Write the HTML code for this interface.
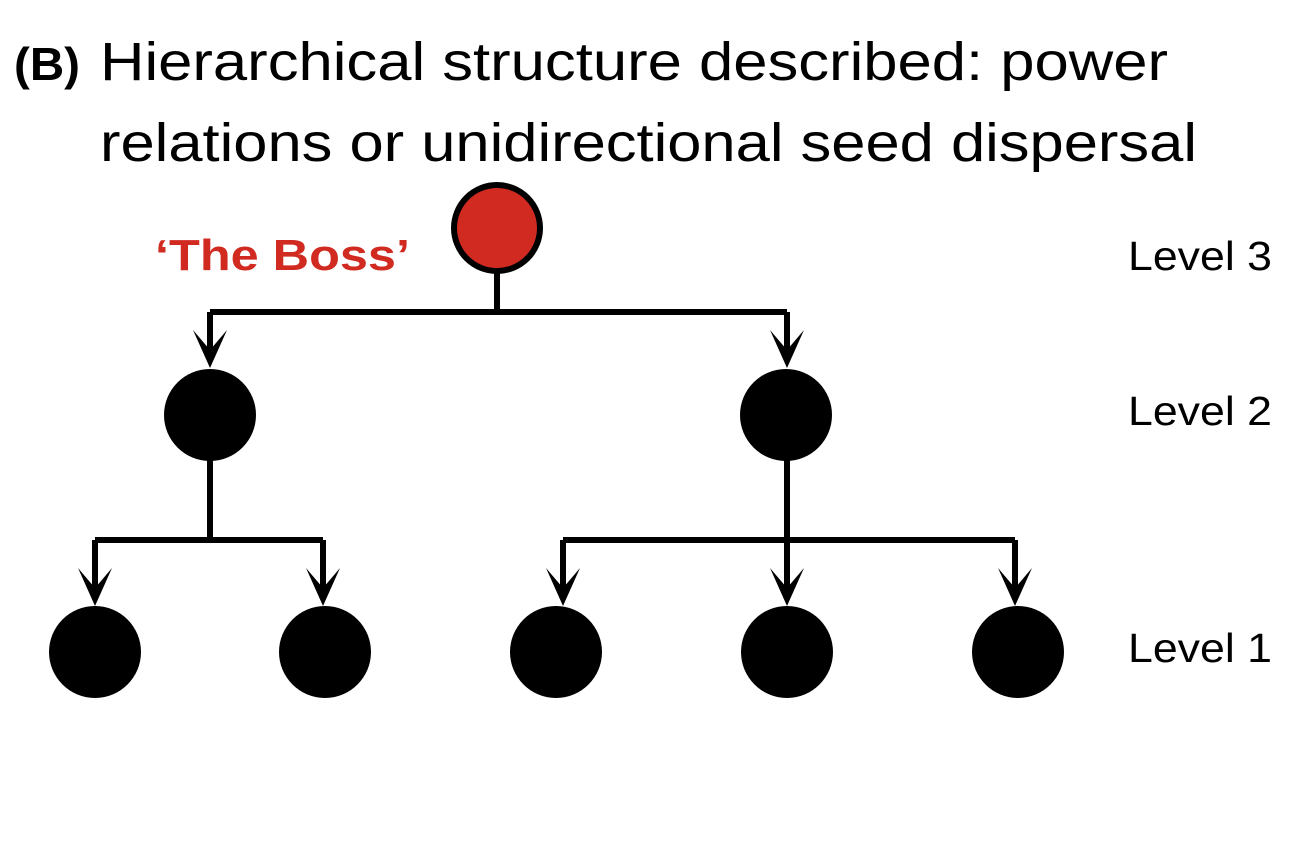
<!DOCTYPE html>
<html><head><style>body{margin:0;background:#fff}</style></head><body>
<svg width="1310" height="840" xmlns="http://www.w3.org/2000/svg" font-family="Liberation Sans, sans-serif">
<defs>
<g id="ah"><path d="M-17,-38 L0,-18 L17,-38 L0,0 Z" fill="#000"/></g>
</defs>
<text x="14" y="80" font-size="46" font-weight="bold" textLength="66" lengthAdjust="spacingAndGlyphs">(B)</text>
<text x="100" y="80" font-size="54" textLength="1068" lengthAdjust="spacingAndGlyphs">Hierarchical structure described: power</text>
<text x="100" y="161" font-size="54" textLength="1097" lengthAdjust="spacingAndGlyphs">relations or unidirectional seed dispersal</text>
<text x="155" y="270" font-size="44" font-weight="bold" fill="#d12a20" textLength="255" lengthAdjust="spacingAndGlyphs">‘The Boss’</text>
<g font-size="41">
<text x="1128" y="270" textLength="144" lengthAdjust="spacingAndGlyphs">Level 3</text>
<text x="1128" y="425" textLength="144" lengthAdjust="spacingAndGlyphs">Level 2</text>
<text x="1128" y="662" textLength="144" lengthAdjust="spacingAndGlyphs">Level 1</text></g>
<g stroke="#000" stroke-width="6" fill="none">
<path d="M497,270 V312 M210,312 H787 M210,312 V350 M787,312 V350"/>
<path d="M210,415 V540 M95,540 H323 M95,540 V590 M323,540 V590"/>
<path d="M787,415 V590 M563,540 H1015 M563,540 V590 M1015,540 V590"/>
</g>
<use href="#ah" x="210" y="368"/><use href="#ah" x="787" y="368"/>
<use href="#ah" x="95" y="606"/><use href="#ah" x="323" y="606"/>
<use href="#ah" x="563" y="606"/><use href="#ah" x="787" y="606"/><use href="#ah" x="1015" y="606"/>
<circle cx="497" cy="228" r="43" fill="#d12a20" stroke="#000" stroke-width="6"/>
<g fill="#000">
<circle cx="210" cy="415" r="46"/><circle cx="786" cy="415" r="46"/>
<circle cx="95" cy="652" r="46"/><circle cx="325" cy="652" r="46"/><circle cx="556" cy="652" r="46"/><circle cx="787" cy="652" r="46"/><circle cx="1018" cy="652" r="46"/>
</g>
</svg>
</body></html>
